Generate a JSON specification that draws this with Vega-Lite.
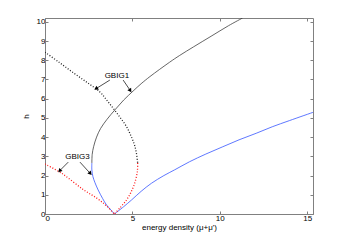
{
  "$schema": "https://vega.github.io/schema/vega-lite/v6.json",
  "width": 268,
  "height": 196,
  "autosize": "none",
  "padding": {"left": 45, "top": 18, "right": 33, "bottom": 27},
  "background": "white",
  "config": {
    "font": "Liberation Sans",
    "view": {"stroke": "#808080", "strokeWidth": 1},
    "axis": {
      "grid": false,
      "domainColor": "#808080",
      "tickColor": "#808080",
      "labelColor": "#000",
      "titleColor": "#000",
      "labelFontSize": 8,
      "titleFontSize": 8,
      "titleFontWeight": "normal",
      "tickSize": -3,
      "labelPadding": 3,
      "domainWidth": 1
    }
  },
  "datasets": {
    "curves": [
      {"s": "k", "i": 0, "x": 2.68, "h": 2.65},
      {"s": "k", "i": 1, "x": 2.70, "h": 3.1},
      {"s": "k", "i": 2, "x": 2.78, "h": 3.5},
      {"s": "k", "i": 3, "x": 2.95, "h": 4.0},
      {"s": "k", "i": 4, "x": 3.18, "h": 4.45},
      {"s": "k", "i": 5, "x": 3.55, "h": 4.93},
      {"s": "k", "i": 6, "x": 4.0, "h": 5.42},
      {"s": "k", "i": 7, "x": 4.5, "h": 5.93},
      {"s": "k", "i": 8, "x": 5.04, "h": 6.4},
      {"s": "k", "i": 9, "x": 5.5, "h": 6.78},
      {"s": "k", "i": 10, "x": 6.0, "h": 7.15},
      {"s": "k", "i": 11, "x": 7.13, "h": 7.9},
      {"s": "k", "i": 12, "x": 7.7, "h": 8.25},
      {"s": "k", "i": 13, "x": 8.5, "h": 8.7},
      {"s": "k", "i": 14, "x": 9.5, "h": 9.25},
      {"s": "k", "i": 15, "x": 10.5, "h": 9.8},
      {"s": "k", "i": 16, "x": 11.3, "h": 10.2},
      {"s": "bl", "i": 0, "x": 2.68, "h": 2.65},
      {"s": "bl", "i": 1, "x": 2.68, "h": 2.3},
      {"s": "bl", "i": 2, "x": 2.74, "h": 1.95},
      {"s": "bl", "i": 3, "x": 2.85, "h": 1.65},
      {"s": "bl", "i": 4, "x": 3.04, "h": 1.25},
      {"s": "bl", "i": 5, "x": 3.3, "h": 0.8},
      {"s": "bl", "i": 6, "x": 3.52, "h": 0.47},
      {"s": "bl", "i": 7, "x": 3.8, "h": 0.18},
      {"s": "bl", "i": 8, "x": 3.97, "h": 0},
      {"s": "br", "i": 0, "x": 3.97, "h": 0},
      {"s": "br", "i": 1, "x": 4.5, "h": 0.38},
      {"s": "br", "i": 2, "x": 4.95, "h": 0.73},
      {"s": "br", "i": 3, "x": 5.5, "h": 1.18},
      {"s": "br", "i": 4, "x": 6.09, "h": 1.6},
      {"s": "br", "i": 5, "x": 6.8, "h": 2.0},
      {"s": "br", "i": 6, "x": 7.42, "h": 2.3},
      {"s": "br", "i": 7, "x": 8.27, "h": 2.72},
      {"s": "br", "i": 8, "x": 9.2, "h": 3.12},
      {"s": "br", "i": 9, "x": 10.17, "h": 3.5},
      {"s": "br", "i": 10, "x": 11.1, "h": 3.86},
      {"s": "br", "i": 11, "x": 12.08, "h": 4.2},
      {"s": "br", "i": 12, "x": 13.0, "h": 4.54},
      {"s": "br", "i": 13, "x": 13.98, "h": 4.86},
      {"s": "br", "i": 14, "x": 15.33, "h": 5.29},
      {"s": "kd", "i": 0, "x": 0, "h": 8.42},
      {"s": "kd", "i": 1, "x": 0.8, "h": 7.9},
      {"s": "kd", "i": 2, "x": 1.62, "h": 7.35},
      {"s": "kd", "i": 3, "x": 2.4, "h": 6.85},
      {"s": "kd", "i": 4, "x": 3.14, "h": 6.35},
      {"s": "kd", "i": 5, "x": 3.52, "h": 5.94},
      {"s": "kd", "i": 6, "x": 3.9, "h": 5.5},
      {"s": "kd", "i": 7, "x": 4.3, "h": 5.02},
      {"s": "kd", "i": 8, "x": 4.66, "h": 4.55},
      {"s": "kd", "i": 9, "x": 4.9, "h": 4.1},
      {"s": "kd", "i": 10, "x": 5.1, "h": 3.65},
      {"s": "kd", "i": 11, "x": 5.23, "h": 3.16},
      {"s": "kd", "i": 12, "x": 5.3, "h": 2.65},
      {"s": "rd1", "i": 0, "x": 5.3, "h": 2.65},
      {"s": "rd1", "i": 1, "x": 5.28, "h": 2.2},
      {"s": "rd1", "i": 2, "x": 5.13, "h": 1.6},
      {"s": "rd1", "i": 3, "x": 4.9, "h": 1.1},
      {"s": "rd1", "i": 4, "x": 4.66, "h": 0.73},
      {"s": "rd1", "i": 5, "x": 4.3, "h": 0.33},
      {"s": "rd1", "i": 6, "x": 3.97, "h": 0},
      {"s": "rd2", "i": 0, "x": 0, "h": 2.6},
      {"s": "rd2", "i": 1, "x": 0.95, "h": 2.12},
      {"s": "rd2", "i": 2, "x": 2.19, "h": 1.27},
      {"s": "rd2", "i": 3, "x": 3.0, "h": 0.8},
      {"s": "rd2", "i": 4, "x": 3.52, "h": 0.42},
      {"s": "rd2", "i": 5, "x": 3.97, "h": 0}
    ],
    "labels": [
      {"t": "GBIG1", "x": 4.11, "h": 7.18},
      {"t": "GBIG3", "x": 1.86, "h": 2.95}
    ],
    "arrows": [
      {"x": 3.71, "h": 6.97, "x2": 2.95, "h2": 6.54, "ang": 238},
      {"x": 4.47, "h": 6.97, "x2": 4.86, "h2": 6.45, "ang": 146},
      {"x": 1.33, "h": 2.70, "x2": 0.86, "h2": 2.27, "ang": 225},
      {"x": 2.0, "h": 2.70, "x2": 2.57, "h2": 2.13, "ang": 138}
    ]
  },
  "layer": [
    {
      "data": {"name": "curves"},
      "transform": [{"filter": {"field": "s", "oneOf": ["k", "bl", "br"]}}],
      "mark": {"type": "line", "strokeWidth": 0.75, "clip": true, "interpolate": "catmull-rom"},
      "encoding": {
        "x": {"field": "x", "type": "quantitative", "scale": {"domain": [0, 15.33], "nice": false, "zero": false},
              "axis": {"title": "energy density (μ+μ')", "values": [0, 5, 10, 15], "titlePadding": 1}},
        "y": {"field": "h", "type": "quantitative", "scale": {"domain": [0, 10.2], "nice": false},
              "axis": {"title": "h", "values": [0, 1, 2, 3, 4, 5, 6, 7, 8, 9, 10], "titlePadding": 6}},
        "color": {"field": "s", "type": "nominal", "legend": null,
                  "scale": {"domain": ["k", "bl", "br", "kd", "rd1", "rd2"], "range": ["#333333", "#2a4bff", "#2a4bff", "#222222", "#ff1a1a", "#ff1a1a"]}},
        "detail": {"field": "s"},
        "order": {"field": "i", "type": "quantitative"}
      }
    },
    {
      "data": {"name": "curves"},
      "transform": [{"filter": {"field": "s", "oneOf": ["kd", "rd1", "rd2"]}}],
      "mark": {"type": "line", "strokeWidth": 1.3, "strokeDash": [1, 1.8], "clip": true, "interpolate": "catmull-rom"},
      "encoding": {
        "x": {"field": "x", "type": "quantitative", "scale": {"domain": [0, 15.33], "nice": false, "zero": false},
              "axis": {"orient": "top", "labels": false, "title": null, "values": [0, 5, 10, 15], "domain": false}},
        "y": {"field": "h", "type": "quantitative", "scale": {"domain": [0, 10.2], "nice": false},
              "axis": {"orient": "right", "labels": false, "title": null, "values": [0, 1, 2, 3, 4, 5, 6, 7, 8, 9, 10], "domain": false}},
        "color": {"field": "s", "type": "nominal", "legend": null,
                  "scale": {"domain": ["k", "bl", "br", "kd", "rd1", "rd2"], "range": ["#333333", "#2a4bff", "#2a4bff", "#222222", "#ff1a1a", "#ff1a1a"]}},
        "detail": {"field": "s"},
        "order": {"field": "i", "type": "quantitative"}
      }
    },
    {
      "data": {"name": "arrows"},
      "mark": {"type": "rule", "color": "#000", "strokeWidth": 0.7},
      "encoding": {
        "x": {"field": "x", "type": "quantitative", "axis": null},
        "y": {"field": "h", "type": "quantitative", "axis": null},
        "x2": {"field": "x2"},
        "y2": {"field": "h2"}
      }
    },
    {
      "data": {"name": "arrows"},
      "mark": {"type": "point", "shape": "triangle", "filled": true, "color": "#000", "size": 20, "opacity": 1},
      "encoding": {
        "x": {"field": "x2", "type": "quantitative", "axis": null},
        "y": {"field": "h2", "type": "quantitative", "axis": null},
        "angle": {"field": "ang", "type": "quantitative", "scale": null}
      }
    },
    {
      "data": {"name": "labels"},
      "mark": {"type": "text", "fontSize": 8, "color": "#000", "align": "center", "baseline": "middle"},
      "encoding": {
        "x": {"field": "x", "type": "quantitative", "axis": null},
        "y": {"field": "h", "type": "quantitative", "axis": null},
        "text": {"field": "t"}
      }
    }
  ],
  "resolve": {"axis": {"x": "independent", "y": "independent"}}
}
